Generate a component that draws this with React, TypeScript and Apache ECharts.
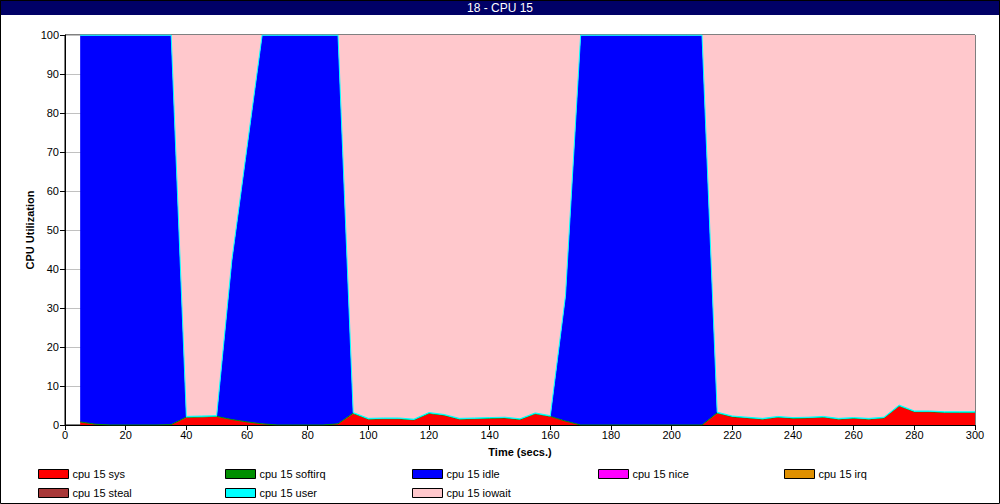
import React, { useEffect, useRef } from "react";
import * as echarts from "echarts";

const titleText = "18 - CPU 15";
const xAxisName = "Time (secs.)";
const yAxisName = "CPU Utilization";

// x axis categories (seconds), first sample is at 5 s
const timeTicks = ["0", "5", "10", "15", "20", "25", "30", "35", "40", "45", "50", "55", "60", "65", "70", "75", "80", "85", "90", "95", "100", "105", "110", "115", "120", "125", "130", "135", "140", "145", "150", "155", "160", "165", "170", "175", "180", "185", "190", "195", "200", "205", "210", "215", "220", "225", "230", "235", "240", "245", "250", "255", "260", "265", "270", "275", "280", "285", "290", "295", "300"];

// values for t = 5 .. 300
const sysVals = [0.8, 0.2, 0, 0, 0, 0, 0.1, 1.9, 2.0, 2.1, 1.4, 0.8, 0.3, 0, 0, 0, 0, 0.3, 2.9, 1.5, 1.6, 1.6, 1.3, 2.9, 2.5, 1.5, 1.6, 1.7, 1.8, 1.4, 2.8, 2.2, 1.0, 0, 0, 0, 0, 0, 0, 0, 0, 0, 3.0, 2.1, 1.8, 1.5, 2.0, 1.7, 1.8, 2.0, 1.5, 1.7, 1.5, 1.8, 4.8, 3.4, 3.4, 3.2, 3.2, 3.2];
const softirqVals = [0, 0, 0, 0, 0, 0, 0, 0.1, 0.1, 0.1, 0, 0, 0, 0, 0, 0, 0, 0, 0.1, 0, 0, 0, 0, 0.1, 0, 0, 0, 0, 0, 0, 0.1, 0, 0, 0, 0, 0, 0, 0, 0, 0, 0, 0, 0.1, 0, 0, 0, 0, 0, 0, 0, 0, 0, 0, 0, 0.1, 0, 0, 0, 0, 0];
const idleVals = [99.1, 99.7, 99.9, 99.9, 99.9, 99.9, 99.8, 0, 0, 0, 40.6, 70.2, 99.6, 99.9, 99.9, 99.9, 99.9, 99.6, 0, 0, 0, 0, 0, 0, 0, 0, 0, 0, 0, 0, 0, 0, 32.0, 99.9, 99.9, 99.9, 99.9, 99.9, 99.9, 99.9, 99.9, 99.9, 0, 0, 0, 0, 0, 0, 0, 0, 0, 0, 0, 0, 0, 0, 0, 0, 0, 0];
const niceVals = [0, 0, 0, 0, 0, 0, 0, 0, 0, 0, 0, 0, 0, 0, 0, 0, 0, 0, 0, 0, 0, 0, 0, 0, 0, 0, 0, 0, 0, 0, 0, 0, 0, 0, 0, 0, 0, 0, 0, 0, 0, 0, 0, 0, 0, 0, 0, 0, 0, 0, 0, 0, 0, 0, 0, 0, 0, 0, 0, 0];
const irqVals = [0, 0, 0, 0, 0, 0, 0, 0, 0, 0, 0, 0, 0, 0, 0, 0, 0, 0, 0, 0, 0, 0, 0, 0, 0, 0, 0, 0, 0, 0, 0, 0, 0, 0, 0, 0, 0, 0, 0, 0, 0, 0, 0, 0, 0, 0, 0, 0, 0, 0, 0, 0, 0, 0, 0, 0, 0, 0, 0, 0];
const stealVals = [0, 0, 0, 0, 0, 0, 0, 0, 0, 0, 0, 0, 0, 0, 0, 0, 0, 0, 0, 0, 0, 0, 0, 0, 0, 0, 0, 0, 0, 0, 0, 0, 0, 0, 0, 0, 0, 0, 0, 0, 0, 0, 0, 0, 0, 0, 0, 0, 0, 0, 0, 0, 0, 0, 0, 0, 0, 0, 0, 0];
const userVals = [0.1, 0.1, 0.1, 0.1, 0.1, 0.1, 0.1, 0.2, 0.2, 0.2, 0.2, 0.2, 0.1, 0.1, 0.1, 0.1, 0.1, 0.1, 0.2, 0.2, 0.2, 0.2, 0.2, 0.2, 0.2, 0.2, 0.2, 0.2, 0.2, 0.2, 0.2, 0.2, 0.2, 0.1, 0.1, 0.1, 0.1, 0.1, 0.1, 0.1, 0.1, 0.1, 0.2, 0.2, 0.2, 0.2, 0.2, 0.2, 0.2, 0.2, 0.2, 0.2, 0.2, 0.2, 0.2, 0.2, 0.2, 0.2, 0.2, 0.2];
const iowaitVals = [0, 0, 0, 0, 0, 0, 0, 97.8, 97.7, 97.6, 57.8, 28.8, 0, 0, 0, 0, 0, 0, 96.8, 98.3, 98.2, 98.2, 98.5, 96.8, 97.3, 98.3, 98.2, 98.1, 98.0, 98.4, 96.9, 97.6, 66.8, 0, 0, 0, 0, 0, 0, 0, 0, 0, 96.7, 97.7, 98.0, 98.3, 97.8, 98.1, 98.0, 97.8, 98.3, 98.1, 98.3, 98.0, 94.9, 96.4, 96.4, 96.6, 96.6, 96.6];

const seriesNames = ["cpu 15 sys", "cpu 15 softirq", "cpu 15 idle", "cpu 15 nice", "cpu 15 irq", "cpu 15 steal", "cpu 15 user", "cpu 15 iowait"];
const seriesColors = ["#ff0000", "#008f00", "#0000ff", "#ff00ff", "#e09000", "#a83838", "#00ffff", "#ffc8cc"];
const seriesValues = [sysVals, softirqVals, idleVals, niceVals, irqVals, stealVals, userVals, iowaitVals];
const seriesLineWidths = [0, 1, 0, 0, 0, 0, 1, 0];
const seriesZ = [2, 4, 3, 3, 3, 3, 6, 5];

const legendColumns = [
  ["cpu 15 sys", "cpu 15 steal"],
  ["cpu 15 softirq", "cpu 15 user"],
  ["cpu 15 idle", "cpu 15 iowait"],
  ["cpu 15 nice"],
  ["cpu 15 irq"],
];
const legendLefts = [38, 225, 412, 598, 784];

const FONT = "'Liberation Sans', Arial, sans-serif";

export default function App() {
  const ref = useRef<HTMLDivElement>(null);
  useEffect(() => {
    if (!ref.current) return;
    const chart = echarts.init(ref.current, undefined, { renderer: "svg" });
    const series = seriesNames.map((name, i) => ({
      name,
      type: "line",
      stack: "cpu",
      symbol: "none",
      showSymbol: false,
      z: seriesZ[i],
      data: ["-", ...seriesValues[i]],
      itemStyle: { color: seriesColors[i] },
      lineStyle: { color: seriesColors[i], width: seriesLineWidths[i] },
      areaStyle: { color: seriesColors[i], opacity: 1 },
      emphasis: { disabled: true },
    }));
    const option: any = {
      animation: false,
      backgroundColor: "#ffffff",
      textStyle: { fontFamily: FONT },
      title: {
        text: titleText,
        left: "center",
        top: 1,
        padding: 0,
        z: 10,
        textStyle: { color: "#ffffff", fontSize: 12, fontWeight: "normal", fontFamily: FONT, lineHeight: 13 },
      },
      graphic: [
        { type: "rect", z: 1, shape: { x: 0, y: 0, width: 1000, height: 15 }, style: { fill: "#000066" } },
        { type: "rect", z: 100, shape: { x: 0.5, y: 0.5, width: 999, height: 503 }, style: { fill: "none", stroke: "#000000", lineWidth: 1 } },
      ],
      legend: legendColumns.map((col, k) => ({
        data: col,
        orient: "vertical",
        left: legendLefts[k],
        top: 468,
        padding: 0,
        itemGap: 7,
        itemWidth: 30,
        itemHeight: 9,
        icon: "rect",
        selectedMode: false,
        itemStyle: { borderColor: "#000000", borderWidth: 1 },
        textStyle: { fontSize: 11, color: "#000000", fontFamily: FONT, lineHeight: 12, padding: [0, 0, 0, -1] },
      })),
      grid: {
        left: 65,
        right: 25,
        top: 35,
        bottom: 79,
        containLabel: false,
        show: true,
        borderColor: "#000000",
        borderWidth: 1,
        backgroundColor: "transparent",
      },
      xAxis: {
        type: "category",
        data: timeTicks,
        boundaryGap: false,
        name: xAxisName,
        nameLocation: "middle",
        nameGap: 21,
        nameMoveOverlap: false,
        nameTextStyle: { fontSize: 11, fontWeight: "bold", color: "#000000", fontFamily: FONT },
        axisLine: { show: true, lineStyle: { color: "#000000", width: 1 } },
        axisTick: { show: true, length: 5, interval: 3, lineStyle: { color: "#000000" } },
        axisLabel: { fontSize: 11, color: "#000000", margin: 4, interval: 3, fontFamily: FONT },
        splitLine: { show: false },
      },
      yAxis: {
        type: "value",
        min: 0,
        max: 100,
        interval: 10,
        name: yAxisName,
        nameLocation: "middle",
        nameGap: 30,
        nameMoveOverlap: false,
        nameTextStyle: { fontSize: 11, fontWeight: "bold", color: "#000000", fontFamily: FONT },
        axisLine: { show: true, lineStyle: { color: "#000000", width: 1 } },
        axisTick: { show: true, length: 5, lineStyle: { color: "#000000" } },
        axisLabel: { fontSize: 11, color: "#000000", margin: 6, fontFamily: FONT },
        splitLine: { show: true, lineStyle: { color: "#c0c0c0", width: 1 } },
      },
      series,
    };
    chart.setOption(option);
    return () => chart.dispose();
  }, []);
  return (
    <div
      ref={ref}
      style={{ position: "fixed", left: 0, top: 0, width: 1000, height: 504 }}
    />
  );
}
